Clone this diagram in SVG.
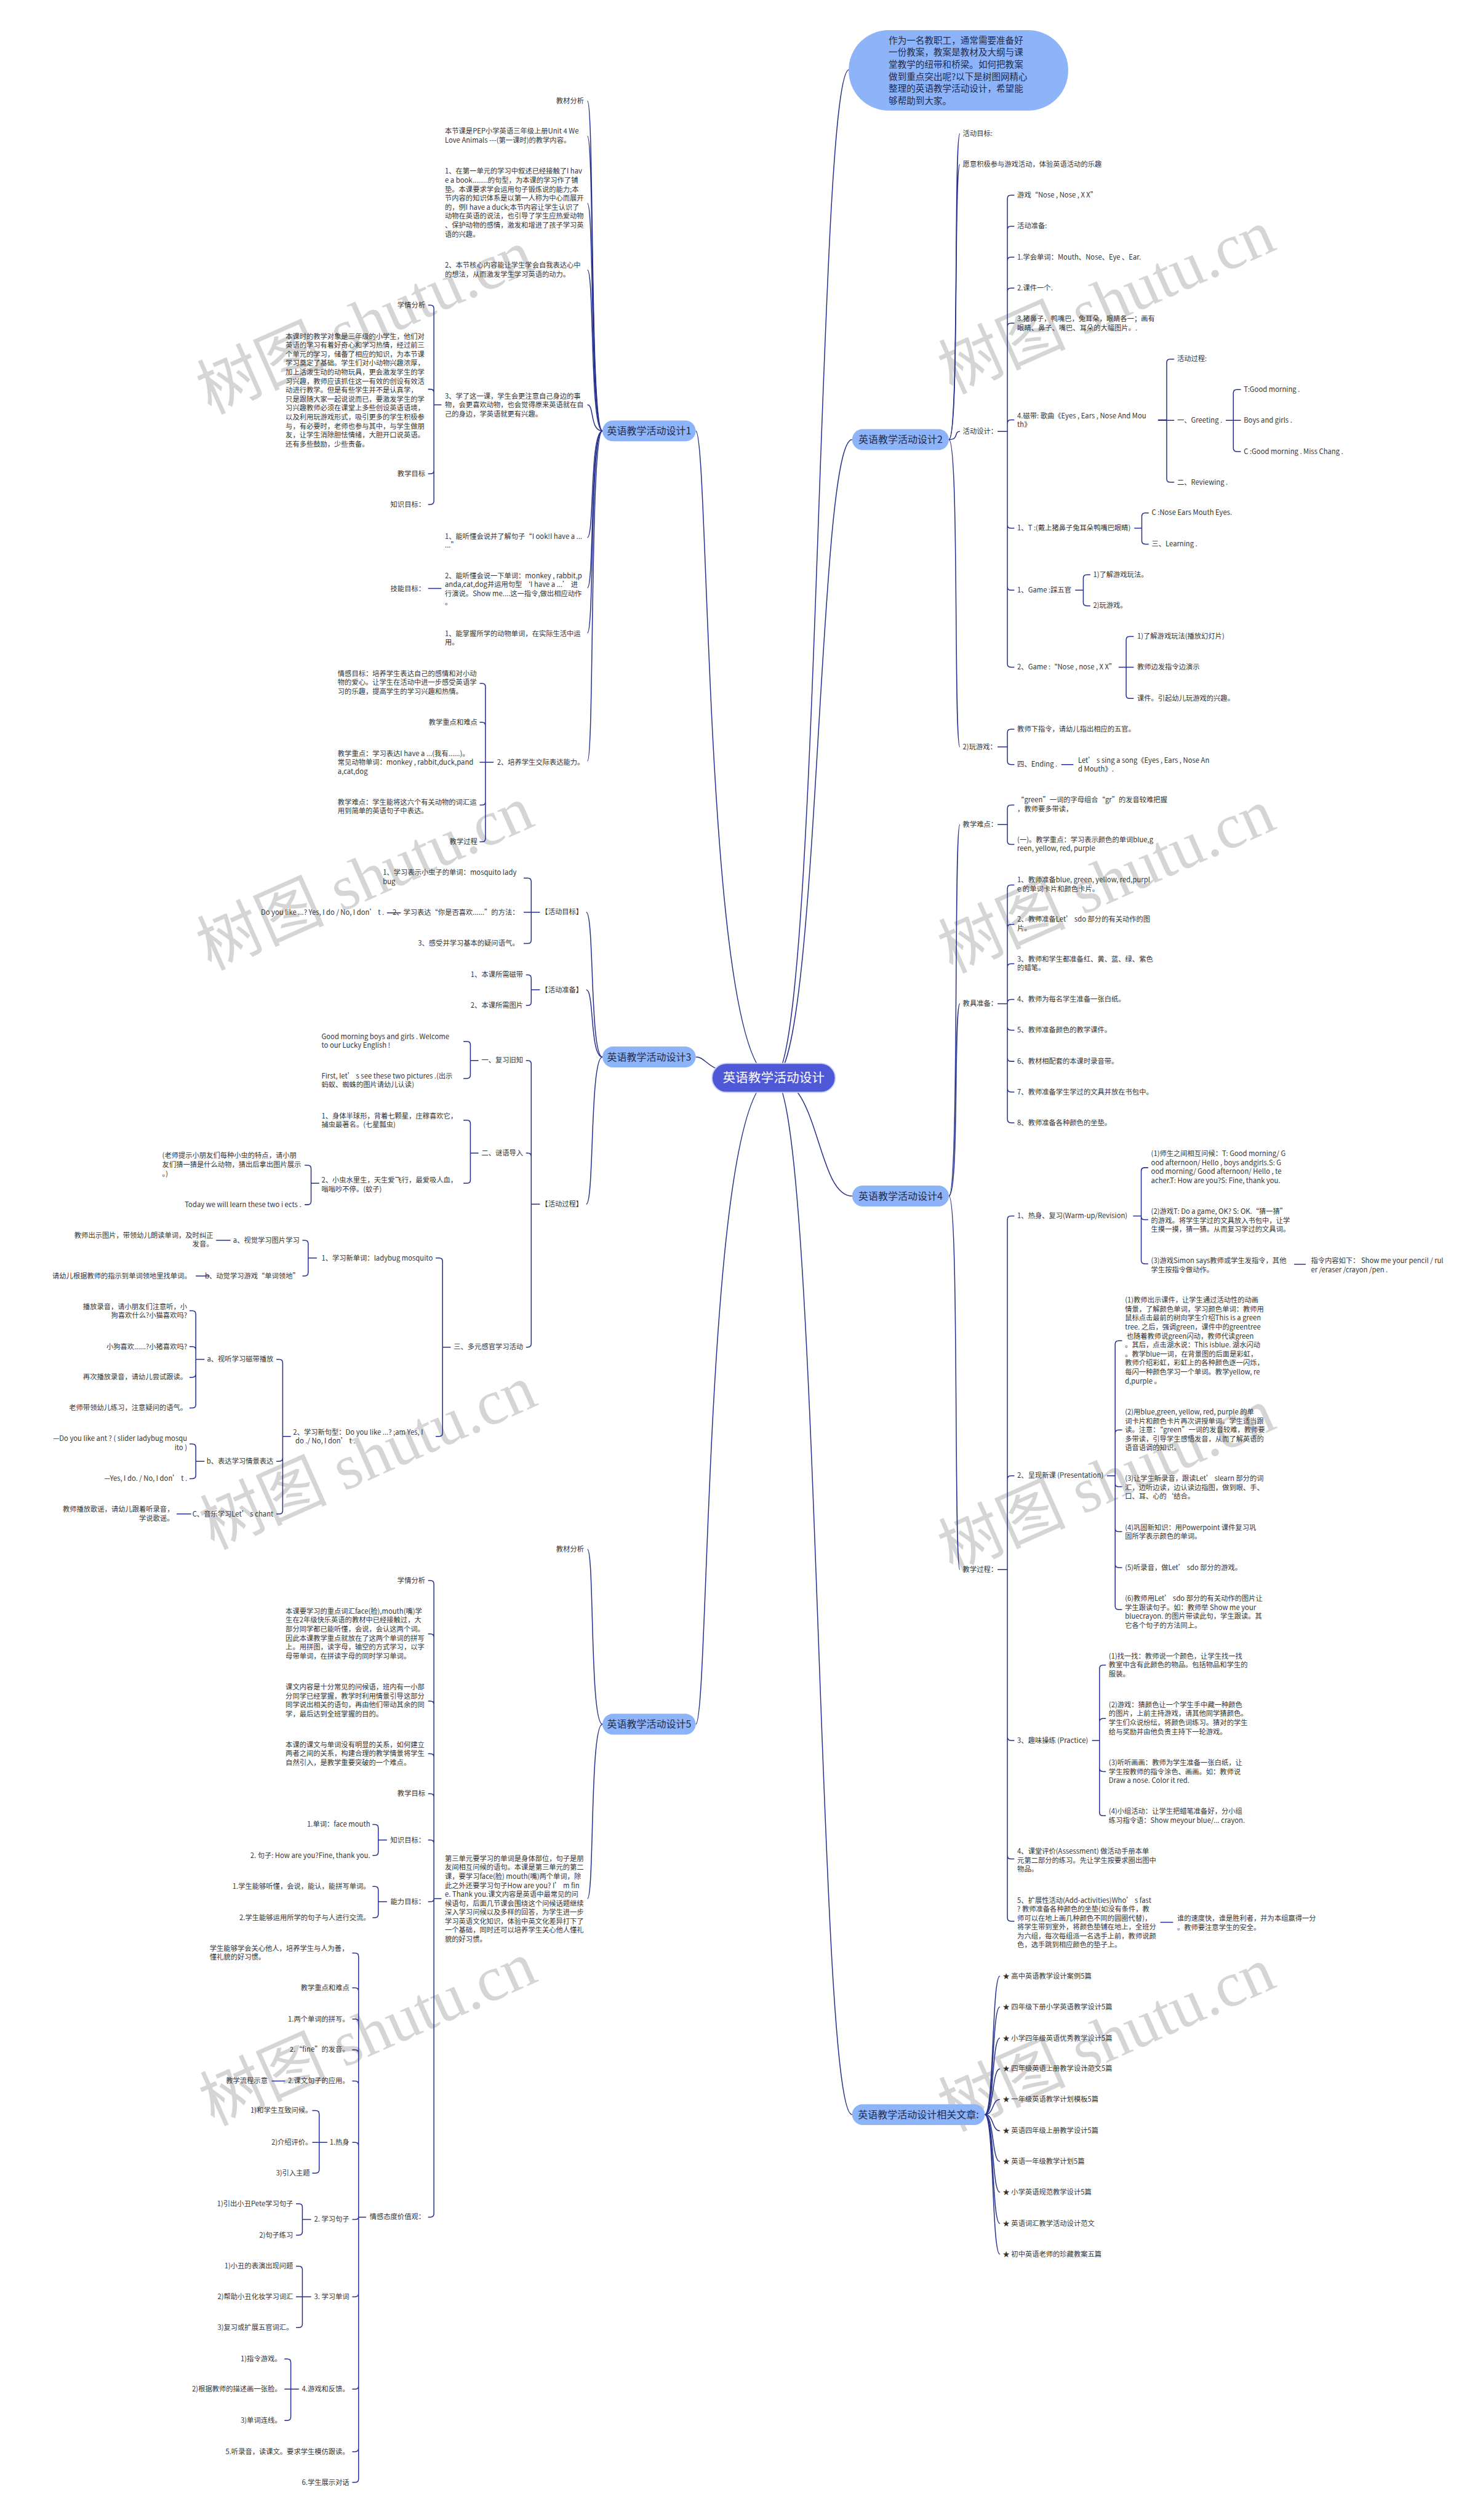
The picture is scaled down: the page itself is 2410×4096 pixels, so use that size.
<svg xmlns="http://www.w3.org/2000/svg" width="2410" height="4096" viewBox="0 0 2410 4096">
<style>
.t{font-family:"Noto Sans CJK SC","Noto Sans",sans-serif;font-size:12px;fill:#333}
.e{text-anchor:end}
.c{fill:none;stroke:#27318c;stroke-width:1.6}
.n{fill:#8db4f8}
.nt{font-family:"Noto Sans CJK SC","Noto Sans",sans-serif;font-size:17px;fill:#1e2b4f;text-anchor:middle}
.wm{font-family:"Liberation Serif","Noto Sans CJK SC",serif;font-size:110px;fill:#c8c8c8;text-anchor:middle;opacity:.75}
</style>
<rect width="2410" height="4096" fill="#fff"/>
<g transform="scale(0.94140625)">
<g id="watermarks">
<text class="wm" transform="translate(645,590) rotate(-24)">树图 shutu.cn</text>
<text class="wm" transform="translate(1925,555) rotate(-24)">树图 shutu.cn</text>
<text class="wm" transform="translate(645,1550) rotate(-24)">树图 shutu.cn</text>
<text class="wm" transform="translate(1925,1555) rotate(-24)">树图 shutu.cn</text>
<text class="wm" transform="translate(650,2550) rotate(-24)">树图 shutu.cn</text>
<text class="wm" transform="translate(1925,2590) rotate(-24)">树图 shutu.cn</text>
<text class="wm" transform="translate(650,3545) rotate(-24)">树图 shutu.cn</text>
<text class="wm" transform="translate(1925,3555) rotate(-24)">树图 shutu.cn</text>
</g>
<g id="connectors">
<path class="c" d="M1335,1861C1215,1861 1225,744 1201,744"/>
<path class="c" d="M1335,1861C1215,1861 1225,1825 1201,1825"/>
<path class="c" d="M1335,1861C1215,1861 1225,2977 1201,2977"/>
<path class="c" d="M1335,1861C1415,1861 1410,120 1466,120"/>
<path class="c" d="M1335,1861C1415,1861 1410,759 1471,759"/>
<path class="c" d="M1335,1861C1415,1861 1410,2065 1471,2065"/>
<path class="c" d="M1335,1861C1415,1861 1410,3651 1471,3651"/>
<path class="c" d="M1040,744C1018,744 1026,174.5 1014,174.5"/>
<path class="c" d="M1040,744C1018,744 1026,235 1014,235"/>
<path class="c" d="M1040,744C1018,744 1026,351 1014,351"/>
<path class="c" d="M1040,744C1018,744 1026,466 1014,466"/>
<path class="c" d="M1040,744C1018,744 1026,699 1014,699"/>
<path class="c" d="M1040,744C1018,744 1026,928 1014,928"/>
<path class="c" d="M1040,744C1018,744 1026,1015 1014,1015"/>
<path class="c" d="M1040,744C1018,744 1026,1093 1014,1093"/>
<path class="c" d="M1040,744C1018,744 1026,1314 1014,1314"/>
<path class="c" d="M762,699H749V533Q749,527 743,527H739M762,699H749V678Q749,672 743,672H739M762,699H749V812Q749,818 743,818H739M762,699H749V865Q749,871 743,871H739"/>
<path class="c" d="M762,1016H739"/>
<path class="c" d="M852,1316H838V1186Q838,1180 832,1180H828M852,1316H838V1253Q838,1247 832,1247H828M852,1316H828M852,1316H838V1384Q838,1390 832,1390H828M852,1316H838V1447.5Q838,1453.5 832,1453.5H828"/>
<path class="c" d="M1040,1825C1018,1825 1026,1575 1012,1575"/>
<path class="c" d="M1040,1825C1018,1825 1026,1709 1012,1709"/>
<path class="c" d="M1040,1825C1018,1825 1026,2079 1012,2079"/>
<path class="c" d="M932,1575H917V1522Q917,1516 911,1516H904M932,1575H904M932,1575H917V1623Q917,1629 911,1629H904M692,1576H668"/>
<path class="c" d="M932,1709H917V1689Q917,1683 911,1683H908M932,1709H917V1730Q917,1736 911,1736H908"/>
<path class="c" d="M932,2079H917V1837Q917,1831 911,1831H908M932,2079H917V1997Q917,1991 911,1991H908M932,2079H917V2320Q917,2326 911,2326H908"/>
<path class="c" d="M826,1831H812V1804Q812,1798 806,1798H800M826,1831H812V1856Q812,1862 806,1862H800"/>
<path class="c" d="M826,1991H812V1940Q812,1934 806,1934H800M826,1991H812V2037Q812,2043 806,2043H800"/>
<path class="c" d="M551,2043H537V2018Q537,2012 531,2012H526M551,2043H537V2074Q537,2080 531,2080H526"/>
<path class="c" d="M778,2326H764V2178Q764,2172 758,2172H752M778,2326H764V2474Q764,2480 758,2480H752"/>
<path class="c" d="M547,2172H532V2147.5Q532,2141.5 526,2141.5H522M547,2172H532V2197Q532,2203 526,2203H522M398,2141.5H373M362,2203H338"/>
<path class="c" d="M502,2480H488V2353Q488,2347 482,2347H477M502,2480H488V2517Q488,2523 482,2523H477M502,2480H488V2608Q488,2614 482,2614H477"/>
<path class="c" d="M353,2347H338V2269Q338,2263 332,2263H327M353,2347H338V2331Q338,2325 332,2325H327M353,2347H338V2372Q338,2378 332,2378H327M353,2347H338V2425Q338,2431 332,2431H327"/>
<path class="c" d="M353,2523H338V2499Q338,2493 332,2493H327M353,2523H338V2547Q338,2553 332,2553H327M330,2614H305"/>
<path class="c" d="M1040,2977C1018,2977 1026,2675 1014,2675"/>
<path class="c" d="M1040,2977C1018,2977 1026,3278 1014,3278"/>
<path class="c" d="M762,3278H749V2735Q749,2729 743,2729H739M762,3278H749V2827Q749,2821 743,2821H739M762,3278H749V2943Q749,2937 743,2937H739M762,3278H749V3034Q749,3028 743,3028H739M762,3278H749V3103Q749,3097 743,3097H739M762,3278H749V3183Q749,3177 743,3177H739M762,3278H749Q749,3283.5 743,3283.5H739M762,3278H749V3822Q749,3828 743,3828H739"/>
<path class="c" d="M668,3177H653V3156Q653,3150 647,3150H643M668,3177H653V3197.5Q653,3203.5 647,3203.5H643"/>
<path class="c" d="M668,3283.5H653V3263Q653,3257 647,3257H643M668,3283.5H653V3305Q653,3311 647,3311H643"/>
<path class="c" d="M632,3828H619V3378Q619,3372 613,3372H608M632,3828H619V3438Q619,3432 613,3432H608M632,3828H619V3492Q619,3486 613,3486H608M632,3828H619V3545Q619,3539 613,3539H608M632,3828H619V3599Q619,3593 613,3593H608M632,3828H619V3705Q619,3699 613,3699H608M632,3828H619Q619,3832 613,3832H608M632,3828H619V3959.5Q619,3965.5 613,3965.5H608M632,3828H619V4119Q619,4125 613,4125H608M632,3828H619V4227Q619,4233 613,4233H608M632,3828H619V4280Q619,4286 613,4286H608M492,3593H469"/>
<path class="c" d="M565,3699H551V3650Q551,3644 545,3644H539M565,3699H539M565,3699H551V3746Q551,3752 545,3752H539"/>
<path class="c" d="M537,3832H522V3811Q522,3805 516,3805H511M537,3832H522V3853Q522,3859 516,3859H511"/>
<path class="c" d="M537,3965.5H522V3918.7Q522,3912.7 516,3912.7H511M537,3965.5H511M537,3965.5H522V4012.7Q522,4018.7 516,4018.7H511"/>
<path class="c" d="M516,4125H502V4079Q502,4073 496,4073H491M516,4125H491M516,4125H502V4173Q502,4179 496,4179H491"/>
<path class="c" d="M1638,759C1656,759 1646,230.7 1657,230.7"/>
<path class="c" d="M1638,759C1656,759 1646,284 1657,284"/>
<path class="c" d="M1638,759C1656,759 1646,745 1657,745"/>
<path class="c" d="M1638,759C1656,759 1646,1289.6 1657,1289.6"/>
<path class="c" d="M1722,745H1739V343Q1739,337 1745,337H1751M1722,745H1739V396.6Q1739,390.6 1745,390.6H1751M1722,745H1739V450Q1739,444 1745,444H1751M1722,745H1739V503.5Q1739,497.5 1745,497.5H1751M1722,745H1739V564Q1739,558 1745,558H1751M1722,745H1739V731Q1739,725 1745,725H1751M1722,745H1739V906Q1739,912 1745,912H1751M1722,745H1739V1013Q1739,1019 1745,1019H1751M1722,745H1739V1146Q1739,1152 1745,1152H1751"/>
<path class="c" d="M1999,725H2014V626Q2014,620 2020,620H2027M1999,725.7H2027M1999,725H2014V826.6Q2014,832.6 2020,832.6H2027"/>
<path class="c" d="M2116,725.7H2129V678.6Q2129,672.6 2135,672.6H2142M2116,725.7H2142M2116,725.7H2129V773.6Q2129,779.6 2135,779.6H2142"/>
<path class="c" d="M1958,912H1971V891.6Q1971,885.6 1977,885.6H1983M1958,912H1971V933.5Q1971,939.5 1977,939.5H1983"/>
<path class="c" d="M1856,1019H1870V998.5Q1870,992.5 1876,992.5H1882M1856,1019H1870V1040Q1870,1046 1876,1046H1882"/>
<path class="c" d="M1931,1152H1944V1105Q1944,1099 1950,1099H1957M1931,1152H1957M1931,1152H1944V1200Q1944,1206 1950,1206H1957"/>
<path class="c" d="M1722,1289.6H1739V1265Q1739,1259 1745,1259H1751M1722,1289.6H1739V1314Q1739,1320 1745,1320H1751M1832,1320H1853"/>
<path class="c" d="M1638,2065C1656,2065 1646,1423.6 1657,1423.6"/>
<path class="c" d="M1638,2065C1656,2065 1646,1733 1657,1733"/>
<path class="c" d="M1638,2065C1656,2065 1646,2710 1657,2710"/>
<path class="c" d="M1722,1423.6H1739V1396Q1739,1390 1745,1390H1751M1722,1423.6H1739V1452Q1739,1458 1745,1458H1751"/>
<path class="c" d="M1722,1733H1739V1534Q1739,1528 1745,1528H1751M1722,1733H1739V1602Q1739,1596 1745,1596H1751M1722,1733H1739V1670Q1739,1664 1745,1664H1751M1722,1733H1739V1731.6Q1739,1725.6 1745,1725.6H1751M1722,1733H1739V1772.6Q1739,1778.6 1745,1778.6H1751M1722,1733H1739V1826.5Q1739,1832.5 1745,1832.5H1751M1722,1733H1739V1879.5Q1739,1885.5 1745,1885.5H1751M1722,1733H1739V1932.5Q1739,1938.5 1745,1938.5H1751"/>
<path class="c" d="M1722,2710H1739V2105.5Q1739,2099.5 1745,2099.5H1751M1722,2710H1739V2554Q1739,2548 1745,2548H1751M1722,2710H1739V2999Q1739,3005 1745,3005H1751M1722,2710H1739V3203.6Q1739,3209.6 1745,3209.6H1751M1722,2710H1739V3311Q1739,3317 1745,3317H1751"/>
<path class="c" d="M1956,2099.5H1970V2022Q1970,2016 1976,2016H1982M1956,2099.5H1970V2100Q1970,2106 1976,2106H1982M1956,2099.5H1970V2176Q1970,2182 1976,2182H1982M2234,2183H2254"/>
<path class="c" d="M1911,2548H1925V2321Q1925,2315 1931,2315H1937M1911,2548H1925V2475Q1925,2469 1931,2469H1937M1911,2548H1925V2561Q1925,2567 1931,2567H1937M1911,2548H1925V2638.5Q1925,2644.5 1931,2644.5H1937M1911,2548H1925V2700.5Q1925,2706.5 1931,2706.5H1937M1911,2548H1925V2773Q1925,2779 1931,2779H1937"/>
<path class="c" d="M1885,3005H1898V2881Q1898,2875 1904,2875H1909M1885,3005H1898V2973Q1898,2967 1904,2967H1909M1885,3005H1898V3052.6Q1898,3058.6 1904,3058.6H1909M1885,3005H1898V3129Q1898,3135 1904,3135H1909M2003,3319H2025"/>
<path class="c" d="M1700,3651C1716,3651 1712,3412 1726,3412"/>
<path class="c" d="M1700,3651C1716,3651 1712,3465 1726,3465"/>
<path class="c" d="M1700,3651C1716,3651 1712,3519 1726,3519"/>
<path class="c" d="M1700,3651C1716,3651 1712,3572 1726,3572"/>
<path class="c" d="M1700,3651C1716,3651 1712,3625 1726,3625"/>
<path class="c" d="M1700,3651C1716,3651 1712,3679 1726,3679"/>
<path class="c" d="M1700,3651C1716,3651 1712,3732 1726,3732"/>
<path class="c" d="M1700,3651C1716,3651 1712,3785 1726,3785"/>
<path class="c" d="M1700,3651C1716,3651 1712,3839 1726,3839"/>
<path class="c" d="M1700,3651C1716,3651 1712,3892 1726,3892"/>
</g>
<g id="root">
<rect x="1229" y="1836" width="213" height="50" rx="25" fill="#4f58d6" stroke="#c9d3fa" stroke-width="2"/>
<text x="1335.5" y="1869" style="font-family:'Noto Sans CJK SC',sans-serif;font-size:22px;fill:#fff;text-anchor:middle">英语教学活动设计</text>
</g>
<g id="intro">
<rect x="1465" y="52" width="379" height="139" rx="69" class="n"/>
<text class="t" style="font-size:15.5px;fill:#1e2b4f" x="1534" y="75"><tspan x="1534">作为一名教职工，通常需要准备好</tspan><tspan x="1534" dy="20.9">一份教案，教案是教材及大纲与课</tspan><tspan x="1534" dy="20.9">堂教学的纽带和桥梁。如何把教案</tspan><tspan x="1534" dy="20.9">做到重点突出呢?以下是树图网精心</tspan><tspan x="1534" dy="20.9">整理的英语教学活动设计，希望能</tspan><tspan x="1534" dy="20.9">够帮助到大家。</tspan></text>
</g>
<g id="design1">
<rect x="1040" y="726" width="161" height="36" rx="18" class="n"/>
<text class="nt" x="1120.5" y="750">英语教学活动设计1</text>
<text class="t e" x="1008" y="178.5">教材分析</text>
<text class="t" x="768" y="231"><tspan x="768">本节课是PEP小学英语三年级上册Unit 4 We</tspan><tspan x="768" dy="15.5">Love Animals ---(第一课时)的教学内容。</tspan></text>
<text class="t" x="768" y="300"><tspan x="768">1、在第一单元的学习中叙述已经接触了I hav</tspan><tspan x="768" dy="15.5">e a book........的句型，为本课的学习作了铺</tspan><tspan x="768" dy="15.5">垫。本课要求学会运用句子锻炼说的能力;本</tspan><tspan x="768" dy="15.5">节内容的知识体系是以第一人称为中心而展开</tspan><tspan x="768" dy="15.5">的，例I have a duck;本节内容让学生认识了</tspan><tspan x="768" dy="15.5">动物在英语的说法，也引导了学生应热爱动物</tspan><tspan x="768" dy="15.5">、保护动物的感情，激发和增进了孩子学习英</tspan><tspan x="768" dy="15.5">语的兴趣。</tspan></text>
<text class="t" x="768" y="462"><tspan x="768">2、本节核心内容能让学生学会自我表达心中</tspan><tspan x="768" dy="15.5">的想法，从而激发学生学习英语的动力。</tspan></text>
<text class="t" x="768" y="688"><tspan x="768">3、学了这一课，学生会更注意自己身边的事</tspan><tspan x="768" dy="15.5">物，会更喜欢动物，也会觉得原来英语就在自</tspan><tspan x="768" dy="15.5">己的身边，学英语就更有兴趣。</tspan></text>
<text class="t e" x="734" y="531">学情分析</text>
<text class="t" x="493" y="585"><tspan x="493">本课时的教学对象是三年级的小学生，他们对</tspan><tspan x="493" dy="15.5">英语的学习有着好奇心和学习热情，经过前三</tspan><tspan x="493" dy="15.5">个单元的学习，储备了相应的知识，为本节课</tspan><tspan x="493" dy="15.5">学习奠定了基础。学生们对小动物兴趣浓厚，</tspan><tspan x="493" dy="15.5">加上活泼生动的动物玩具，更会激发学生的学</tspan><tspan x="493" dy="15.5">习兴趣，教师应该抓住这一有效的创设有效活</tspan><tspan x="493" dy="15.5">动进行教学。但是有些学生并不是认真学，</tspan><tspan x="493" dy="15.5">只是跟随大家一起说说而已，要激发学生的学</tspan><tspan x="493" dy="15.5">习兴趣教师必须在课堂上多些创设英语语境，</tspan><tspan x="493" dy="15.5">以及利用玩游戏形式，吸引更多的学生积极参</tspan><tspan x="493" dy="15.5">与，有必要时，老师也参与其中，与学生做朋</tspan><tspan x="493" dy="15.5">友，让学生消除胆怯情绪，大胆开口说英语。</tspan><tspan x="493" dy="15.5">还有多些鼓励，少些责备。</tspan></text>
<text class="t e" x="734" y="822">教学目标</text>
<text class="t e" x="734" y="875">知识目标：</text>
<text class="t" x="768" y="930"><tspan x="768">1、能听懂会说并了解句子“I ook!I have a ...</tspan><tspan x="768" dy="15.5">...”</tspan></text>
<text class="t" x="768" y="998"><tspan x="768">2、能听懂会说一下单词：monkey , rabbit,p</tspan><tspan x="768" dy="15.5">anda,cat,dog并运用句型 ‘I have a ...’ 进</tspan><tspan x="768" dy="15.5">行演说。Show me....这一指令,做出相应动作</tspan><tspan x="768" dy="15.5">。</tspan></text>
<text class="t e" x="734" y="1021">技能目标：</text>
<text class="t" x="768" y="1098"><tspan x="768">1、能掌握所学的动物单词，在实际生活中运</tspan><tspan x="768" dy="15.5">用。</tspan></text>
<text class="t" x="858" y="1320.5">2、培养学生交际表达能力。</text>
<text class="t" x="583" y="1167"><tspan x="583">情感目标：培养学生表达自己的感情和对小动</tspan><tspan x="583" dy="15.5">物的爱心。让学生在活动中进一步感受英语学</tspan><tspan x="583" dy="15.5">习的乐趣，提高学生的学习兴趣和热情。</tspan></text>
<text class="t e" x="824" y="1251">教学重点和难点</text>
<text class="t" x="583" y="1305"><tspan x="583">教学重点：学习表达I have a ...(我有......)。</tspan><tspan x="583" dy="15.5">常见动物单词：monkey , rabbit,duck,pand</tspan><tspan x="583" dy="15.5">a,cat,dog</tspan></text>
<text class="t" x="583" y="1389"><tspan x="583">教学难点：学生能将这六个有关动物的词汇运</tspan><tspan x="583" dy="15.5">用到简单的英语句子中表达。</tspan></text>
<text class="t e" x="824" y="1457.5">教学过程</text>
</g>
<g id="design3">
<rect x="1040" y="1807" width="161" height="36" rx="18" class="n"/>
<text class="nt" x="1120.5" y="1831">英语教学活动设计3</text>
<text class="t e" x="1006" y="1579">【活动目标】</text>
<text class="t" x="661" y="1511"><tspan x="661">1、学习表示小虫子的单词：mosquito lady</tspan><tspan x="661" dy="15.5">bug</tspan></text>
<text class="t e" x="896" y="1580">2、学习表达“你是否喜欢......”的方法：</text>
<text class="t e" x="663" y="1580">Do you like ...? Yes, I do / No, I don’ t .</text>
<text class="t e" x="896" y="1633">3、感受并学习基本的疑问语气。</text>
<text class="t e" x="1006" y="1713">【活动准备】</text>
<text class="t e" x="903" y="1687">1、本课所需磁带</text>
<text class="t e" x="903" y="1740">2、本课所需图片</text>
<text class="t e" x="1006" y="2083">【活动过程】</text>
<text class="t e" x="903" y="1835">一、复习旧知</text>
<text class="t e" x="903" y="1995">二、谜语导入</text>
<text class="t e" x="903" y="2330">三、多元感官学习活动</text>
<text class="t" x="555" y="1794"><tspan x="555">Good morning boys and girls . Welcome</tspan><tspan x="555" dy="15.5">to our Lucky English !</tspan></text>
<text class="t" x="555" y="1862"><tspan x="555">First, let’ s see these two pictures .(出示</tspan><tspan x="555" dy="15.5">蚂蚁、蜘蛛的图片请幼儿认读)</tspan></text>
<text class="t" x="555" y="1931"><tspan x="555">1、身体半球形，背着七颗星，庄稼喜欢它，</tspan><tspan x="555" dy="15.5">捕虫最著名。(七星瓢虫)</tspan></text>
<text class="t" x="555" y="2042"><tspan x="555">2、小虫水里生，天生爱飞行，最爱吸人血，</tspan><tspan x="555" dy="15.5">嗡嗡吵不停。(蚊子)</tspan></text>
<text class="t" x="280" y="1999.5"><tspan x="280">(老师提示小朋友们每种小虫的特点，请小朋</tspan><tspan x="280" dy="15.5">友们猜一猜是什么动物，猜出后拿出图片展示</tspan><tspan x="280" dy="15.5">。)</tspan></text>
<text class="t e" x="520" y="2084">Today we will learn these two i ects .</text>
<text class="t e" x="747" y="2176">1、学习新单词：ladybug mosquito</text>
<text class="t e" x="517" y="2145.5">a、视觉学习图片学习</text>
<text class="t e" x="517" y="2207">b、动觉学习游戏“单词领地”</text>
<text class="t e" x="368" y="2137"><tspan x="368">教师出示图片，带领幼儿朗读单词，及时纠正</tspan><tspan x="368" dy="15.5">发音。</tspan></text>
<text class="t e" x="330" y="2207">请幼儿根据教师的指示到单词领地里找单词。</text>
<text class="t" x="506" y="2477"><tspan x="506">2、学习新句型：Do you like ...? ;am Yes, I</tspan><tspan x="510" dy="15.5">do ./ No, I don’ t .</tspan></text>
<text class="t e" x="472" y="2351">a、视听学习磁带播放</text>
<text class="t e" x="472" y="2527">b、表达学习情景表达</text>
<text class="t e" x="472" y="2618">C、音乐学习Let’ s chant</text>
<text class="t e" x="323" y="2260"><tspan x="323">播放录音，请小朋友们注意听，小</tspan><tspan x="323" dy="15.5">狗喜欢什么?小猫喜欢吗?</tspan></text>
<text class="t e" x="323" y="2329">小狗喜欢......?小猪喜欢吗?</text>
<text class="t e" x="323" y="2382">再次播放录音，请幼儿尝试跟读。</text>
<text class="t e" x="323" y="2435">老师带领幼儿练习，注意疑问的语气。</text>
<text class="t e" x="323" y="2488"><tspan x="323">—Do you like ant ? ( slider ladybug mosqu</tspan><tspan x="323" dy="15.5">ito )</tspan></text>
<text class="t e" x="323" y="2557">—Yes, I do. / No, I don’ t .</text>
<text class="t e" x="300" y="2610"><tspan x="300">教师播放歌谣，请幼儿跟着听录音，</tspan><tspan x="300" dy="15.5">学说歌谣。</tspan></text>
</g>
<g id="design5">
<rect x="1040" y="2959" width="161" height="36" rx="18" class="n"/>
<text class="nt" x="1120.5" y="2983">英语教学活动设计5</text>
<text class="t e" x="1008" y="2679">教材分析</text>
<text class="t" x="768" y="3213"><tspan x="768">第三单元要学习的单词是身体部位，句子是朋</tspan><tspan x="768" dy="15.5">友间相互问候的语句。本课是第三单元的第二</tspan><tspan x="768" dy="15.5">课，要学习face(脸) mouth(嘴)两个单词，除</tspan><tspan x="768" dy="15.5">此之外还要学习句子How are you? I’ m fin</tspan><tspan x="768" dy="15.5">e. Thank you.课文内容是英语中最常见的问</tspan><tspan x="768" dy="15.5">候语句，后面几节课会围绕这个问候话题继续</tspan><tspan x="768" dy="15.5">深入学习问候以及多样的回答，为学生进一步</tspan><tspan x="768" dy="15.5">学习英语文化知识，体验中英文化差异打下了</tspan><tspan x="768" dy="15.5">一个基础，同时还可以培养学生关心他人懂礼</tspan><tspan x="768" dy="15.5">貌的好习惯。</tspan></text>
<text class="t e" x="734" y="2733">学情分析</text>
<text class="t" x="493" y="2786"><tspan x="493">本课要学习的重点词汇face(脸),mouth(嘴)学</tspan><tspan x="493" dy="15.5">生在2年级快乐英语的教材中已经接触过，大</tspan><tspan x="493" dy="15.5">部分同学都已能听懂，会说，会认这两个词。</tspan><tspan x="493" dy="15.5">因此本课教学重点就放在了这两个单词的拼写</tspan><tspan x="493" dy="15.5">上。用拼图，读字母，输空的方式学习，以字</tspan><tspan x="493" dy="15.5">母带单词，在拼读字母的同时学习单词。</tspan></text>
<text class="t" x="493" y="2917"><tspan x="493">课文内容是十分常见的问候语，班内有一小部</tspan><tspan x="493" dy="15.5">分同学已经掌握，教学时利用情景引导这部分</tspan><tspan x="493" dy="15.5">同学说出相关的语句，再由他们带动其余的同</tspan><tspan x="493" dy="15.5">学，最后达到全班掌握的目的。</tspan></text>
<text class="t" x="493" y="3016.5"><tspan x="493">本课的课文与单词没有明显的关系，如何建立</tspan><tspan x="493" dy="15.5">两者之间的关系，构建合理的教学情景将学生</tspan><tspan x="493" dy="15.5">自然引入，是教学重要突破的一个难点。</tspan></text>
<text class="t e" x="734" y="3101">教学目标</text>
<text class="t e" x="734" y="3181">知识目标：</text>
<text class="t e" x="734" y="3287.5">能力目标：</text>
<text class="t e" x="734" y="3832">情感态度价值观：</text>
<text class="t e" x="639" y="3154">1.单词：face mouth</text>
<text class="t e" x="639" y="3207.5">2. 句子: How are you?Fine, thank you.</text>
<text class="t e" x="639" y="3261">1.学生能够听懂，会说，能认，能拼写单词。</text>
<text class="t e" x="639" y="3315">2.学生能够运用所学的句子与人进行交流。</text>
<text class="t" x="362" y="3368"><tspan x="362">学生能够学会关心他人，培养学生与人为善，</tspan><tspan x="362" dy="15.5">懂礼貌的好习惯。</tspan></text>
<text class="t e" x="603" y="3436">教学重点和难点</text>
<text class="t e" x="603" y="3490">1.两个单词的拼写。</text>
<text class="t e" x="603" y="3543">2.“fine”的发音。</text>
<text class="t e" x="603" y="3597">2.课文句子的应用。</text>
<text class="t e" x="462" y="3597">教学流程示意</text>
<text class="t e" x="603" y="3703">1.热身</text>
<text class="t e" x="603" y="3836">2. 学习句子</text>
<text class="t e" x="603" y="3969.5">3. 学习单词</text>
<text class="t e" x="603" y="4129">4.游戏和反馈。</text>
<text class="t e" x="603" y="4237">5.听录音，读课文。要求学生模仿跟读。</text>
<text class="t e" x="603" y="4290">6.学生展示对话</text>
<text class="t e" x="539" y="3648">1)和学生互致问候。</text>
<text class="t e" x="539" y="3703">2)介绍评价。</text>
<text class="t e" x="535" y="3756">3)引入主题</text>
<text class="t e" x="506" y="3809">1)引出小丑Pete学习句子</text>
<text class="t e" x="506" y="3863">2)句子练习</text>
<text class="t e" x="506" y="3916.7">1)小丑的表演出现问题</text>
<text class="t e" x="506" y="3969.5">2)帮助小丑化妆学习词汇</text>
<text class="t e" x="506" y="4022.7">3)复习或扩展五官词汇。</text>
<text class="t e" x="486" y="4077">1)指令游戏。</text>
<text class="t e" x="486" y="4129">2)根据教师的描述画一张脸。</text>
<text class="t e" x="486" y="4183">3)单词连线。</text>
</g>
<g id="design2">
<rect x="1471" y="741" width="167" height="36" rx="18" class="n"/>
<text class="nt" x="1554.5" y="765">英语教学活动设计2</text>
<text class="t" x="1662" y="234.7">活动目标:</text>
<text class="t" x="1662" y="288">愿意积极参与游戏活动，体验英语活动的乐趣</text>
<text class="t" x="1662" y="749">活动设计：</text>
<text class="t" x="1662" y="1293.6">2)玩游戏：</text>
<text class="t" x="1756" y="341">游戏“Nose , Nose , X X”</text>
<text class="t" x="1756" y="394.6">活动准备:</text>
<text class="t" x="1756" y="448">1.学会单词：Mouth、Nose、Eye 、Ear.</text>
<text class="t" x="1756" y="501.5">2.课件一个.</text>
<text class="t" x="1756" y="554.6"><tspan x="1756">3.猪鼻子，鸭嘴巴，兔耳朵，眼睛各一；画有</tspan><tspan x="1756" dy="15.5">眼睛、鼻子、嘴巴、耳朵的大幅图片。.</tspan></text>
<text class="t" x="1756" y="722"><tspan x="1756">4.磁带: 歌曲《Eyes , Ears , Nose And Mou</tspan><tspan x="1756" dy="15.5">th》</tspan></text>
<text class="t" x="1756" y="916">1、T :(戴上猪鼻子兔耳朵鸭嘴巴眼睛)</text>
<text class="t" x="1756" y="1023">1、Game :踩五官</text>
<text class="t" x="1756" y="1156">2、Game :“Nose , nose , X X”</text>
<text class="t" x="2032" y="624">活动过程:</text>
<text class="t" x="2032" y="729.7">一、Greeting .</text>
<text class="t" x="2032" y="836.6">二、Reviewing .</text>
<text class="t" x="2147" y="676.6">T:Good morning .</text>
<text class="t" x="2147" y="729.7">Boys and girls .</text>
<text class="t" x="2147" y="783.6">C :Good morning . Miss Chang .</text>
<text class="t" x="1988" y="889.6">C :Nose Ears Mouth Eyes.</text>
<text class="t" x="1988" y="943.5">三、Learning .</text>
<text class="t" x="1887" y="996.5">1)了解游戏玩法。</text>
<text class="t" x="1887" y="1050">2)玩游戏。</text>
<text class="t" x="1963" y="1103">1)了解游戏玩法(播放幻灯片)</text>
<text class="t" x="1963" y="1156">教师边发指令边演示</text>
<text class="t" x="1963" y="1210">课件。引起幼儿玩游戏的兴趣。</text>
<text class="t" x="1756" y="1263">教师下指令，请幼儿指出相应的五官。</text>
<text class="t" x="1756" y="1324">四、Ending .</text>
<text class="t" x="1861" y="1317"><tspan x="1861">Let’ s sing a song《Eyes , Ears , Nose An</tspan><tspan x="1861" dy="15.5">d Mouth》.</tspan></text>
</g>
<g id="design4">
<rect x="1471" y="2047" width="167" height="36" rx="18" class="n"/>
<text class="nt" x="1554.5" y="2071">英语教学活动设计4</text>
<text class="t" x="1662" y="1427.6">教学难点：</text>
<text class="t" x="1662" y="1737">教具准备：</text>
<text class="t" x="1662" y="2714">教学过程：</text>
<text class="t" x="1756" y="1385.6"><tspan x="1756">“green”一词的字母组合“gr”的发音较难把握</tspan><tspan x="1756" dy="15.5">，教师要多带读，</tspan></text>
<text class="t" x="1756" y="1454"><tspan x="1756">(一)。教学重点：学习表示颜色的单词blue,g</tspan><tspan x="1756" dy="15.5">reen, yellow, red, purple</tspan></text>
<text class="t" x="1756" y="1523.5"><tspan x="1756">1、教师准备blue, green, yellow, red,purpl</tspan><tspan x="1756" dy="15.5">e 的单词卡片和颜色卡片。</tspan></text>
<text class="t" x="1756" y="1591.7"><tspan x="1756">2、教师准备Let’ sdo 部分的有关动作的图</tspan><tspan x="1756" dy="15.5">片。</tspan></text>
<text class="t" x="1756" y="1660"><tspan x="1756">3、教师和学生都准备红、黄、蓝、绿、紫色</tspan><tspan x="1756" dy="15.5">的蜡笔。</tspan></text>
<text class="t" x="1756" y="1729.6">4、教师为每名学生准备一张白纸。</text>
<text class="t" x="1756" y="1782.6">5、教师准备颜色的教学课件。</text>
<text class="t" x="1756" y="1836.5">6、教材相配套的本课时录音带。</text>
<text class="t" x="1756" y="1889.5">7、教师准备学生学过的文具并放在书包中。</text>
<text class="t" x="1756" y="1942.5">8、教师准备各种颜色的坐垫。</text>
<text class="t" x="1756" y="2103.5">1、热身、复习(Warm-up/Revision)</text>
<text class="t" x="1987" y="1996"><tspan x="1987">(1)师生之间相互问候：T: Good morning/ G</tspan><tspan x="1987" dy="15.5">ood afternoon/ Hello , boys andgirls.S: G</tspan><tspan x="1987" dy="15.5">ood morning/ Good afternoon/ Hello , te</tspan><tspan x="1987" dy="15.5">acher.T: How are you?S: Fine, thank you.</tspan></text>
<text class="t" x="1987" y="2096"><tspan x="1987">(2)游戏T: Do a game, OK? S: OK.“猜一猜”</tspan><tspan x="1987" dy="15.5">的游戏。将学生学过的文具放入书包中，让学</tspan><tspan x="1987" dy="15.5">生摸一摸，猜一猜。从而复习学过的文具词。</tspan></text>
<text class="t" x="1987" y="2181"><tspan x="1987">(3)游戏Simon says教师或学生发指令，其他</tspan><tspan x="1987" dy="15.5">学生按指令做动作。</tspan></text>
<text class="t" x="2263" y="2181"><tspan x="2263">指令内容如下： Show me your pencil / rul</tspan><tspan x="2263" dy="15.5">er /eraser /crayon /pen .</tspan></text>
<text class="t" x="1756" y="2552">2、呈现新课 (Presentation)</text>
<text class="t" x="1942" y="2249"><tspan x="1942">(1)教师出示课件，让学生通过活动性的动画</tspan><tspan x="1942" dy="15.5">情景，了解颜色单词，学习颜色单词：教师用</tspan><tspan x="1942" dy="15.5">鼠标点击最前的树向学生介绍This is a green</tspan><tspan x="1942" dy="15.5">tree. 之后，强调green，课件中的greentree</tspan><tspan x="1942" dy="15.5"> 也随着教师说green闪动，教师代读green</tspan><tspan x="1942" dy="15.5">。其后，点击湖水说：This isblue. 湖水闪动</tspan><tspan x="1942" dy="15.5">。教学blue一词，在背景图的后面是彩虹，</tspan><tspan x="1942" dy="15.5">教师介绍彩虹，彩虹上的各种颜色逐一闪烁，</tspan><tspan x="1942" dy="15.5">每闪一种颜色学习一个单词。教学yellow, re</tspan><tspan x="1942" dy="15.5">d,purple 。</tspan></text>
<text class="t" x="1942" y="2442"><tspan x="1942">(2)用blue,green, yellow, red, purple 的单</tspan><tspan x="1942" dy="15.5">词卡片和颜色卡片再次讲授单词。学生适当跟</tspan><tspan x="1942" dy="15.5">读。注意：“green”一词的发音较难，教师要</tspan><tspan x="1942" dy="15.5">多带读，引导学生感悟发音，从而了解英语的</tspan><tspan x="1942" dy="15.5">语音语调的知识。</tspan></text>
<text class="t" x="1942" y="2557"><tspan x="1942">(3)让学生听录音，跟读Let’ slearn 部分的词</tspan><tspan x="1942" dy="15.5">汇，边听边读，边认读边指图，做到眼、手、</tspan><tspan x="1942" dy="15.5">口、耳、心的‘结合。</tspan></text>
<text class="t" x="1942" y="2641.5"><tspan x="1942">(4)巩固新知识：用Powerpoint 课件复习巩</tspan><tspan x="1942" dy="15.5">固所学表示颜色的单词。</tspan></text>
<text class="t" x="1942" y="2710.5">(5)听录音，做Let’ sdo 部分的游戏。</text>
<text class="t" x="1942" y="2764"><tspan x="1942">(6)教师用Let’ sdo 部分的有关动作的图片让</tspan><tspan x="1942" dy="15.5">学生跟读句子。如：教师举 Show me your</tspan><tspan x="1942" dy="15.5">bluecrayon. 的图片带读此句，学生跟读。其</tspan><tspan x="1942" dy="15.5">它各个句子的方法同上。</tspan></text>
<text class="t" x="1756" y="3009">3、趣味操练 (Practice)</text>
<text class="t" x="1914" y="2863.5"><tspan x="1914">(1)找一找：教师说一个颜色，让学生找一找</tspan><tspan x="1914" dy="15.5">教室中含有此颜色的物品。包括物品和学生的</tspan><tspan x="1914" dy="15.5">服装。</tspan></text>
<text class="t" x="1914" y="2947.5"><tspan x="1914">(2)游戏：猜颜色让一个学生手中藏一种颜色</tspan><tspan x="1914" dy="15.5">的图片，上前主持游戏，请其他同学猜颜色。</tspan><tspan x="1914" dy="15.5">学生们众说纷纭，将颜色词练习。猜对的学生</tspan><tspan x="1914" dy="15.5">给与奖励并由他负责主持下一轮游戏。</tspan></text>
<text class="t" x="1914" y="3047.5"><tspan x="1914">(3)听听画画：教师为学生准备一张白纸，让</tspan><tspan x="1914" dy="15.5">学生按教师的指令涂色、画画。如：教师说</tspan><tspan x="1914" dy="15.5">Draw a nose. Color it red.</tspan></text>
<text class="t" x="1914" y="3132"><tspan x="1914">(4)小组活动：让学生把蜡笔准备好，分小组</tspan><tspan x="1914" dy="15.5">练习指令语：Show meyour blue/... crayon.</tspan></text>
<text class="t" x="1756" y="3200.5"><tspan x="1756">4、课堂评价(Assessment) 做活动手册本单</tspan><tspan x="1756" dy="15.5">元第二部分的练习。先让学生按要求圈出图中</tspan><tspan x="1756" dy="15.5">物品。</tspan></text>
<text class="t" x="1756" y="3285"><tspan x="1756">5、扩展性活动(Add-activities)Who’ s fast</tspan><tspan x="1756" dy="15.5">? 教师准备各种颜色的坐垫(如没有条件，教</tspan><tspan x="1756" dy="15.5">师可以在地上画几种颜色不同的圆圈代替)，</tspan><tspan x="1756" dy="15.5">将学生带到室外，将颜色垫铺在地上，全班分</tspan><tspan x="1756" dy="15.5">为六组，每次每组派一名选手上前，教师说颜</tspan><tspan x="1756" dy="15.5">色，选手跳到相应颜色的垫子上。</tspan></text>
<text class="t" x="2032" y="3316.6"><tspan x="2032">谁的速度快，谁是胜利者，并为本组赢得一分</tspan><tspan x="2032" dy="15.5">。教师要注意学生的安全。</tspan></text>
</g>
<g id="related">
<rect x="1471" y="3633" width="229" height="36" rx="18" class="n"/>
<text class="nt" x="1585.5" y="3657">英语教学活动设计相关文章:</text>
<text class="t" x="1731" y="3416">★ 高中英语教学设计案例5篇</text>
<text class="t" x="1731" y="3469">★ 四年级下册小学英语教学设计5篇</text>
<text class="t" x="1731" y="3523">★ 小学四年级英语优秀教学设计5篇</text>
<text class="t" x="1731" y="3576">★ 四年级英语上册教学设计范文5篇</text>
<text class="t" x="1731" y="3629">★ 一年级英语教学计划模板5篇</text>
<text class="t" x="1731" y="3683">★ 英语四年级上册教学设计5篇</text>
<text class="t" x="1731" y="3736">★ 英语一年级教学计划5篇</text>
<text class="t" x="1731" y="3789">★ 小学英语规范教学设计5篇</text>
<text class="t" x="1731" y="3843">★ 英语词汇教学活动设计范文</text>
<text class="t" x="1731" y="3896">★ 初中英语老师的珍藏教案五篇</text>
</g>
</g>
</svg>
